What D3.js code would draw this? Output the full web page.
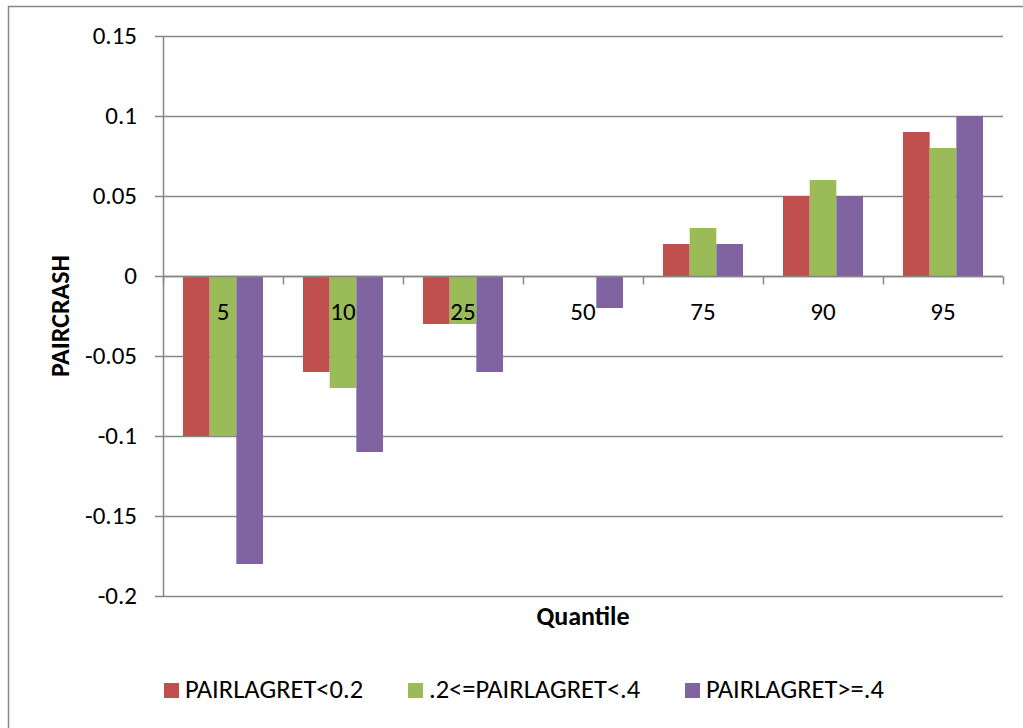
<!DOCTYPE html>
<html>
<head>
<meta charset="utf-8">
<script src="https://cdn.jsdelivr.net/npm/d3@7"></script>
<style>
  body { margin: 0; background: #fff; }
  svg text { font-family: Carlito, Calibri, Lato, sans-serif; fill: #000; }
</style>
</head>
<body>
<svg id="chart" width="1023" height="728"></svg>
<script>
// quantile categories and the three series
var quantiles = ["5", "10", "25", "50", "75", "90", "95"];
var seriesNames = ["PAIRLAGRET<0.2", ".2<=PAIRLAGRET<.4", "PAIRLAGRET>=.4"];
var lowLag = [-0.1, -0.06, -0.03, 0, 0.02, 0.05, 0.09];
var midLag = [-0.1, -0.07, -0.03, 0, 0.03, 0.06, 0.08];
var highLag = [-0.18, -0.11, -0.06, -0.02, 0.02, 0.05, 0.1];
var yTicks = [-0.2, -0.15, -0.1, -0.05, 0, 0.05, 0.1, 0.15];
var colors = ["#C0504D", "#9BBB59", "#8064A2"];

var seriesValues = [lowLag, midLag, highLag];
var rows = quantiles.map(function(q, i) {
    return { q: q, vals: seriesValues.map(function(s) { return s[i]; }) };
});

var svg = d3.select("#chart");
var gridColor = "#878787";
var fontSize = "25px";

// outer chart border (runs off right/bottom of the picture)
svg.append("rect")
    .attr("x", 8.5).attr("y", 6.5)
    .attr("width", 1040).attr("height", 740)
    .attr("fill", "none")
    .attr("stroke", gridColor)
    .attr("stroke-width", 1.5);

var plotLeft = 163, plotRight = 1003, plotTop = 36, plotBottom = 596;

var y = d3.scaleLinear()
    .domain([-0.2, 0.15])
    .range([plotBottom, plotTop]);

var x0 = d3.scaleBand()
    .domain(quantiles)
    .range([plotLeft, plotRight])
    .paddingInner(1/3)
    .paddingOuter(1/6);

var x1 = d3.scaleBand()
    .domain(d3.range(seriesNames.length))
    .range([0, x0.bandwidth()]);

// gridlines
svg.append("g")
    .selectAll("line")
    .data(yTicks)
    .enter().append("line")
    .attr("x1", plotLeft - 8)
    .attr("x2", plotRight)
    .attr("y1", function(d) { return Math.round(y(d)) + 0.5; })
    .attr("y2", function(d) { return Math.round(y(d)) + 0.5; })
    .attr("stroke", gridColor)
    .attr("stroke-width", 1.5);

// y tick labels
svg.append("g")
    .selectAll("text")
    .data(yTicks)
    .enter().append("text")
    .attr("x", 137)
    .attr("y", function(d) { return y(d) + 8; })
    .attr("text-anchor", "end")
    .style("font-size", fontSize)
    .text(function(d) { return String(+d.toFixed(2)); });

// bars
var groups = svg.append("g")
    .selectAll("g")
    .data(rows)
    .enter().append("g")
    .attr("transform", function(d) { return "translate(" + x0(d.q) + ",0)"; });

groups.selectAll("rect")
    .data(function(d) { return d.vals; })
    .enter().append("rect")
    .attr("x", function(d, i) { return x1(i); })
    .attr("width", x1.bandwidth())
    .attr("y", function(d) { return y(Math.max(0, d)); })
    .attr("height", function(d) { return Math.abs(y(d) - y(0)); })
    .attr("fill", function(d, i) { return colors[i]; });

// y axis line
svg.append("line")
    .attr("x1", plotLeft + 0.5).attr("x2", plotLeft + 0.5)
    .attr("y1", plotTop).attr("y2", plotBottom + 1)
    .attr("stroke", gridColor)
    .attr("stroke-width", 1.5);

// x axis at zero with ticks between categories
var zeroY = Math.round(y(0)) + 0.5;
svg.append("line")
    .attr("x1", plotLeft).attr("x2", plotRight)
    .attr("y1", zeroY).attr("y2", zeroY)
    .attr("stroke", gridColor)
    .attr("stroke-width", 1.5);

var step = x0.step();
svg.append("g")
    .selectAll("line")
    .data(d3.range(quantiles.length + 1))
    .enter().append("line")
    .attr("x1", function(i) { return plotLeft + i * step + 0.5; })
    .attr("x2", function(i) { return plotLeft + i * step + 0.5; })
    .attr("y1", zeroY)
    .attr("y2", zeroY + 8)
    .attr("stroke", gridColor)
    .attr("stroke-width", 1.5);

// category labels sit just under the zero line
svg.append("g")
    .selectAll("text")
    .data(quantiles)
    .enter().append("text")
    .attr("x", function(d) { return x0(d) + x0.bandwidth() / 2; })
    .attr("y", 320)
    .attr("text-anchor", "middle")
    .style("font-size", fontSize)
    .text(function(d) { return d; });

// axis titles
svg.append("text")
    .attr("x", 583)
    .attr("y", 625)
    .attr("text-anchor", "middle")
    .style("font-size", "26px")
    .style("font-weight", "bold")
    .text("Quantile");

svg.append("text")
    .attr("transform", "translate(69,316) rotate(-90)")
    .attr("text-anchor", "middle")
    .style("font-size", "26px")
    .style("font-weight", "bold")
    .text("PAIRCRASH");

// legend
var legendX = [164, 408, 685];
var legend = svg.append("g")
    .selectAll("g")
    .data(seriesNames)
    .enter().append("g")
    .attr("transform", function(d, i) { return "translate(" + legendX[i] + ",683)"; });

legend.append("rect")
    .attr("width", 15)
    .attr("height", 15)
    .attr("fill", function(d, i) { return colors[i]; });

legend.append("text")
    .attr("x", 21)
    .attr("y", 15)
    .style("font-size", "26.5px")
    .text(function(d) { return d; });
</script>
</body>
</html>
